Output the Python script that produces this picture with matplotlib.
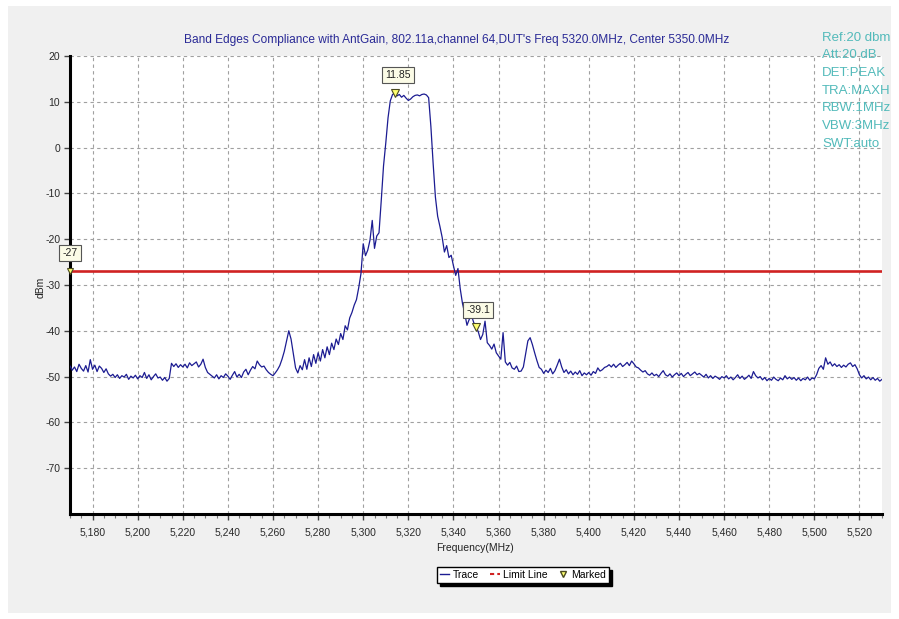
import matplotlib.pyplot as plt
from matplotlib.lines import Line2D
from matplotlib.patches import Rectangle
from matplotlib.ticker import MultipleLocator, FuncFormatter

# sweep settings
freq_start = 5170
freq_stop = 5530
ref_level = 20
bottom_level = -80

# max-hold trace, one point per MHz from 5170 to 5530
trace_dbm = [
    -47.7, -48.6, -47.9, -48.9, -47.3, -48.2, -48.8, -47.6, -49.0, -46.3,
    -48.4, -47.5, -48.9, -47.7, -48.2, -49.1, -48.3, -49.4, -49.9, -49.5,
    -50.2, -49.6, -50.4, -49.8, -50.1, -49.5, -50.6, -49.9, -50.3, -49.7,
    -50.5, -49.8, -50.2, -49.1, -50.4, -49.6, -50.7, -50.0, -49.4, -50.3,
    -50.1, -50.8, -50.2, -51.0, -50.4, -47.1, -47.8, -47.2, -48.0, -47.4,
    -47.9, -47.3, -48.1, -47.0, -47.6, -47.2, -46.8, -47.9, -47.3, -46.2,
    -48.0, -49.1, -49.5, -49.9, -50.3, -49.6, -50.5, -49.8, -50.2, -49.4,
    -49.9, -50.6, -49.7, -48.9, -50.1, -49.5, -50.2, -49.0, -48.4, -49.6,
    -48.6, -47.8, -48.3, -46.6, -47.4, -47.9, -47.7, -48.5, -49.1, -49.5,
    -49.8, -49.2, -48.5, -47.6, -46.2, -44.5, -42.3, -40.0, -41.8, -45.0,
    -48.1, -49.2, -47.6, -48.5, -46.3, -48.4, -45.9, -47.8, -45.2, -47.1,
    -44.8, -46.6, -44.1, -45.9, -43.5, -45.2, -42.7, -44.1, -41.8, -43.0,
    -40.6, -41.9, -38.9, -39.8, -37.2, -36.0, -34.4, -33.2, -30.6, -27.5,
    -21.0, -23.6, -22.4, -20.2, -15.9, -22.0, -19.3, -18.6, -11.5, -4.0,
    1.0, 6.5, 10.2, 11.6, 11.85, 11.3, 11.6, 11.0, 11.4, 10.8,
    10.3, 10.6, 11.1, 11.4, 11.5, 11.3, 11.6, 11.7, 11.5, 10.9,
    4.6, -3.5, -10.8, -15.0, -17.2, -19.6, -22.8, -21.4, -24.0, -23.5,
    -25.8, -27.9, -26.4, -30.8, -34.0, -36.2, -38.8, -37.5, -36.7, -38.2,
    -39.1, -40.2, -41.9, -40.8, -37.9, -42.6, -43.2, -44.0, -42.9, -44.8,
    -45.5, -46.2, -40.4, -46.8, -47.5, -46.9, -48.1, -48.4, -47.7, -48.9,
    -48.8, -47.9, -45.0, -42.2, -41.5, -43.0, -44.8, -46.5, -48.0, -48.4,
    -49.3, -48.6, -49.1, -48.2, -49.4, -48.7, -47.5, -46.2, -47.9, -49.1,
    -48.5, -49.4, -48.8, -49.6, -49.0, -49.5, -48.7, -49.8, -49.2, -49.6,
    -49.1, -49.7, -48.9, -49.3, -48.1, -48.8, -48.5, -48.0, -47.8, -47.4,
    -47.9, -47.3, -48.0, -47.5, -47.1, -47.8, -47.4, -46.9, -47.6, -46.6,
    -47.2, -47.9, -48.1, -48.6, -49.0, -48.7, -49.4, -49.7, -49.2, -49.8,
    -49.5, -50.0, -49.3, -48.7, -49.6, -49.9, -49.4, -50.1, -49.6, -49.2,
    -49.8, -49.3, -50.0, -49.5, -49.1, -49.8, -49.4, -49.0, -49.6, -49.3,
    -49.7, -50.1, -49.5, -50.3, -49.8, -50.4, -49.9, -50.2, -50.6, -50.0,
    -50.3, -49.8, -50.5, -50.1, -50.7, -50.2, -49.6, -50.4, -49.9, -50.6,
    -50.2, -49.7, -50.4, -48.9, -49.8, -50.3, -50.0, -50.7, -50.2, -50.9,
    -50.4, -50.8, -50.1, -50.6, -50.9, -50.3, -50.7, -49.8, -50.5, -50.1,
    -50.6, -50.2, -50.8, -50.3, -50.9, -50.4, -50.7, -50.1, -50.8, -50.3,
    -50.5, -49.6, -48.2, -47.6, -48.4, -45.9, -47.3, -46.8, -47.7, -47.2,
    -47.8, -47.4, -48.0, -47.5, -47.9, -47.3, -47.0, -47.8, -47.4, -48.3,
    -49.6, -50.3, -49.8, -50.5, -50.1, -50.7, -50.2, -50.8, -50.4, -51.0,
    -50.6,
]
freqs = list(range(freq_start, freq_start + len(trace_dbm)))

limit_dbm = -27

# peak marker and band-edge marker
marker_freqs = [5314, 5350]
marker_vals = [11.85, -39.1]

settings_lines = ['Ref:20 dbm', 'Att:20 dB', 'DET:PEAK', 'TRA:MAXH',
                  'RBW:1MHz', 'VBW:3MHz', 'SWT:auto']

title = ("Band Edges Compliance with AntGain, 802.11a,channel 64,"
         "DUT's Freq 5320.0MHz, Center 5350.0MHz")

plt.rcParams['font.family'] = ['Liberation Sans', 'DejaVu Sans']
plt.rcParams['axes.unicode_minus'] = False

W, H = 899, 619
fig = plt.figure(figsize=(W / 100, H / 100), dpi=100)
fig.patch.set_facecolor('white')
fig.add_artist(Rectangle((8 / W, 1 - 613 / H), (891 - 8) / W, (613 - 6) / H,
                         transform=fig.transFigure, facecolor='#f0f0f0',
                         edgecolor='none', zorder=-5))

ax = fig.add_axes([70 / W, 1 - 514 / H, (882 - 70) / W, (514 - 56) / H])
ax.set_facecolor('white')

trace_col = '#1c1c92'
ax.axhline(limit_dbm, color='#d02222', lw=1.9, zorder=2)
ax.plot(freqs, trace_dbm, color=trace_col, lw=0.9, zorder=3)

mk_face = '#ffff70'
mk_edge = '#4a4a20'
ax.plot(marker_freqs, marker_vals, linestyle='None', marker='v', markersize=6,
        markerfacecolor=mk_face, markeredgecolor=mk_edge, markeredgewidth=0.8,
        zorder=5)
ax.plot([freq_start], [limit_dbm], linestyle='None', marker='v', markersize=4,
        markerfacecolor=mk_face, markeredgecolor=mk_edge, markeredgewidth=0.8,
        zorder=5, clip_on=False)

box = dict(boxstyle='square,pad=0.3', facecolor='#fbfbe6', edgecolor='#555555', lw=0.8)
label_offsets = [(3, 18), (2, 17)]
for f, v, off in zip(marker_freqs, marker_vals, label_offsets):
    ax.annotate(f'{v:g}', (f, v), xytext=off, textcoords='offset pixels',
                ha='center', va='center', fontsize=7.5, color='#222222',
                bbox=box, zorder=6)
ax.annotate(f'{limit_dbm:g}', (freq_start, limit_dbm), xytext=(0, 18),
            textcoords='offset pixels', ha='center', va='center',
            fontsize=7.5, color='#222222', bbox=box, zorder=6,
            annotation_clip=False)

ax.set_xlim(freq_start, freq_stop)
ax.set_ylim(bottom_level, ref_level)
ax.xaxis.set_minor_locator(MultipleLocator(5))
ax.set_xticks(range(5180, 5521, 20))
ax.set_yticks(range(-70, 21, 10))
ax.xaxis.set_major_formatter(FuncFormatter(lambda x, p: f'{x:,.0f}'))

ax.grid(True, which='major', color='#a0a0a0', linestyle=(0, (3, 3)), lw=0.8)
ax.tick_params(axis='both', which='major', length=4, width=1, labelsize=7.5,
               color='#444444', labelcolor='#2a2a2a')
ax.tick_params(axis='x', which='minor', length=3, width=0.8, color='#777777')
ax.tick_params(axis='x', pad=6)
ax.tick_params(axis='y', pad=3)

for s in ['top', 'right']:
    ax.spines[s].set_visible(False)
for s in ['left', 'bottom']:
    ax.spines[s].set_linewidth(2.2)
    ax.spines[s].set_color('black')

fig.text(41 / W, 1 - 287 / H, 'dBm', rotation=90, ha='center', va='center',
         fontsize=7.5, color='#222222')
fig.text(475 / W, 1 - 548 / H, 'Frequency(MHz)', ha='center', va='center',
         fontsize=7.5, color='#222222')

fig.text(457 / W, 1 - 40 / H, title, ha='center', va='center',
         fontsize=8.6, color='#2a2a96')

line_y = [38, 55.5, 73, 90.5, 108, 126, 144]
for txt, y in zip(settings_lines, line_y):
    fig.text(822 / W, 1 - y / H, txt, ha='left', va='center',
             fontsize=9.5, color='#52baba', zorder=10)

handles = [
    Line2D([], [], color=trace_col, lw=1),
    Line2D([], [], color='#d02222', lw=1.5, linestyle=(0, (2, 1.5))),
    Line2D([], [], linestyle='None', marker='v', markersize=5,
           markerfacecolor=mk_face, markeredgecolor=mk_edge),
]
leg = fig.legend(handles, ['Trace', 'Limit Line', 'Marked'], ncol=3,
                 loc='center', bbox_to_anchor=(523 / W, 1 - 575 / H),
                 fontsize=7.5, handlelength=0.9, handletextpad=0.3,
                 columnspacing=1.1, borderpad=0.3, fancybox=False,
                 edgecolor='black', framealpha=1, facecolor='white',
                 shadow={'color': 'black', 'alpha': 1})
leg.get_frame().set_linewidth(1)

fig.savefig('out.png', dpi=100, facecolor=fig.get_facecolor())
